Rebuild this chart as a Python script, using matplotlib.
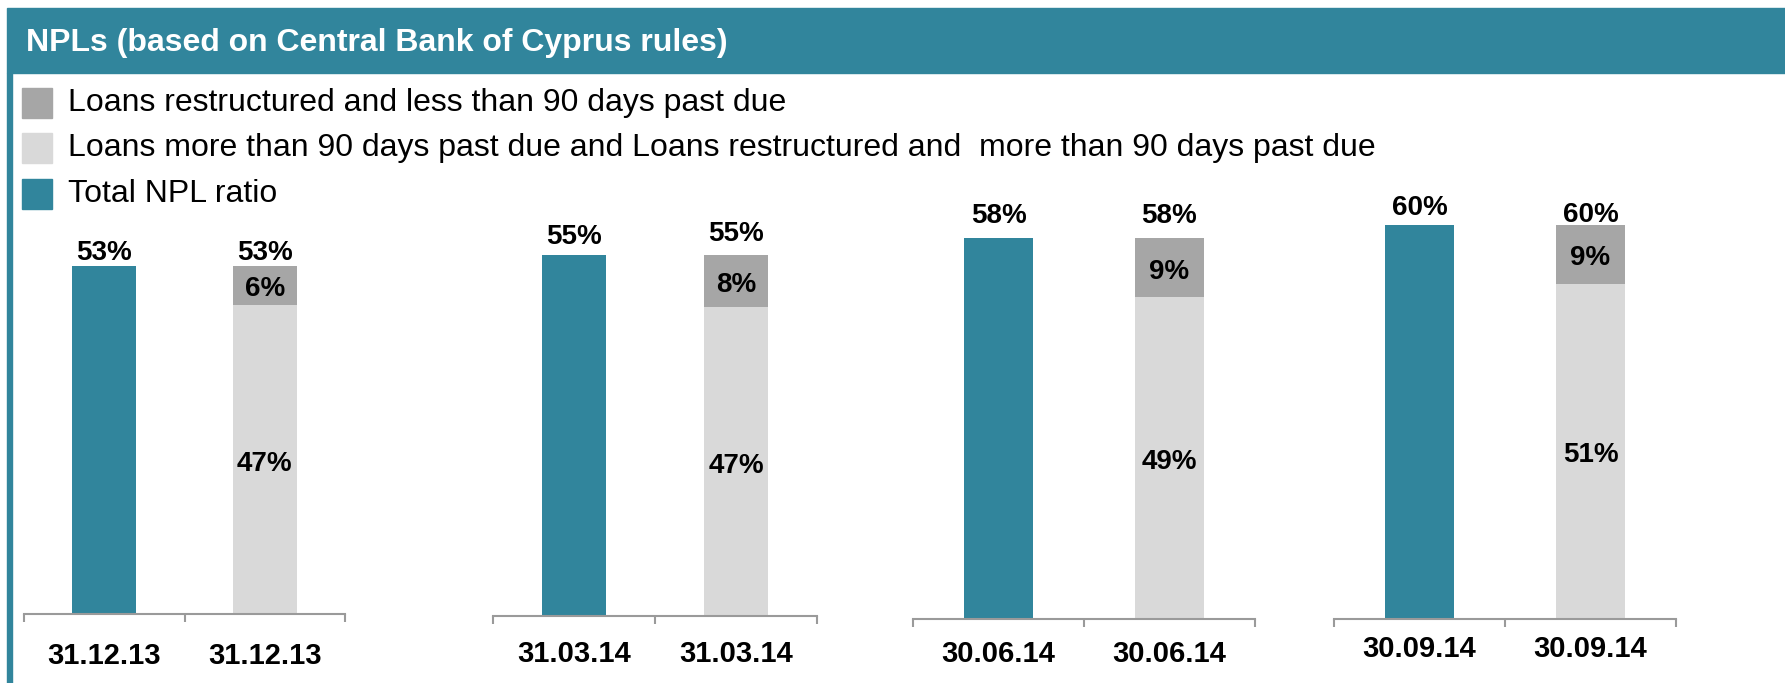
import matplotlib
matplotlib.use("Agg")
import matplotlib.pyplot as plt
from matplotlib.patches import Rectangle

## DATA
dates = ['31.12.13', '31.03.14', '30.06.14', '30.09.14']
total_npl = [53, 55, 58, 60]
restructured_lt90 = [6, 8, 9, 9]
over90 = [47, 47, 49, 51]

legend_labels = ['Loans restructured and less than 90 days past due',
                 'Loans more than 90 days past due and Loans restructured and  more than 90 days past due',
                 'Total NPL ratio']
title = 'NPLs (based on Central Bank of Cyprus rules)'

## SETTINGS
W, H = 1785, 683
teal = '#31859C'
dark_grey = '#A6A6A6'
light_grey = '#D9D9D9'
axis_grey = '#9A9A9A'
font = 'Liberation Sans'

# panel layout in pixels (left, right, baseline)
panel_left = [24, 493, 913, 1334]
panel_right = [345, 817, 1255, 1676]
panel_base = [614, 616, 619, 619]
px_per_pct = 6.57
ymax = 70
# label offsets in pixels
total_lbl_off = [17, 22, 26, 21]
stack_lbl_off = [17, 25, 26, 14]
date_lbl_off = [38, 34, 31, 26]
text_shift = -4  # va='center' counts the descent, pull digits down a little
## / SETTINGS

plt.rcParams['font.family'] = font

fig = plt.figure(figsize=(W / 100, H / 100), dpi=100)

def fx(px):
    return px / W

def fy(py):
    return 1 - py / H

# header band and left frame line
fig.patches.append(Rectangle((fx(7), fy(73)), fx(W) - fx(7), fy(8) - fy(73),
                             transform=fig.transFigure, color=teal, zorder=0))
fig.patches.append(Rectangle((fx(7), fy(H)), fx(12) - fx(7), fy(73) - fy(H),
                             transform=fig.transFigure, color=teal, zorder=0))
fig.text(fx(26), fy(43), title, color='white', fontsize=23, fontweight='bold',
         va='center', ha='left')

# legend
for lbl, col, yc in zip(legend_labels, [dark_grey, light_grey, teal], [103, 148, 194]):
    fig.patches.append(Rectangle((fx(22), fy(yc + 15)), fx(30), fy(0) - fy(30),
                                 transform=fig.transFigure, color=col))
    fig.text(fx(68), fy(yc), lbl, fontsize=23, va='center', ha='left')

lbl_style = dict(fontsize=20, fontweight='bold', ha='center', va='center',
                 textcoords='offset pixels')

for i in range(4):
    axh = ymax * px_per_pct
    ax = fig.add_axes([fx(panel_left[i]), fy(panel_base[i]),
                       fx(panel_right[i] - panel_left[i]), axh / H])
    ax.bar(0, total_npl[i], width=0.4, color=teal)
    ax.bar(1, over90[i], width=0.4, color=light_grey)
    ax.bar(1, restructured_lt90[i], width=0.4, bottom=over90[i], color=dark_grey)

    ax.set_xlim(-0.5, 1.5)
    ax.set_ylim(0, ymax)
    for s in ['top', 'left', 'right']:
        ax.spines[s].set_visible(False)
    ax.spines['bottom'].set_color(axis_grey)
    ax.spines['bottom'].set_linewidth(1.5)
    ax.set_yticks([])
    ax.set_xticks([-0.5, 0.5, 1.5])
    ax.set_xticklabels([])
    ax.tick_params(axis='x', length=6, width=1.5, color=axis_grey)
    ax.patch.set_alpha(0)

    # value labels
    ax.annotate(f'{total_npl[i]}%', (0, total_npl[i]),
                xytext=(0, total_lbl_off[i] + text_shift), **lbl_style)
    stack_top = over90[i] + restructured_lt90[i]
    ax.annotate(f'{stack_top}%', (1, stack_top),
                xytext=(0, stack_lbl_off[i] + text_shift), **lbl_style)
    ax.annotate(f'{restructured_lt90[i]}%', (1, over90[i] + restructured_lt90[i] / 2),
                xytext=(0, text_shift), **lbl_style)
    ax.annotate(f'{over90[i]}%', (1, over90[i] / 2), xytext=(0, text_shift), **lbl_style)

    # category labels
    for x in [0, 1]:
        ax.annotate(dates[i], (x, 0), xytext=(0, -date_lbl_off[i] + text_shift),
                    fontsize=21, fontweight='bold', ha='center', va='center',
                    textcoords='offset pixels', annotation_clip=False)

fig.savefig('out.png', dpi=100)
